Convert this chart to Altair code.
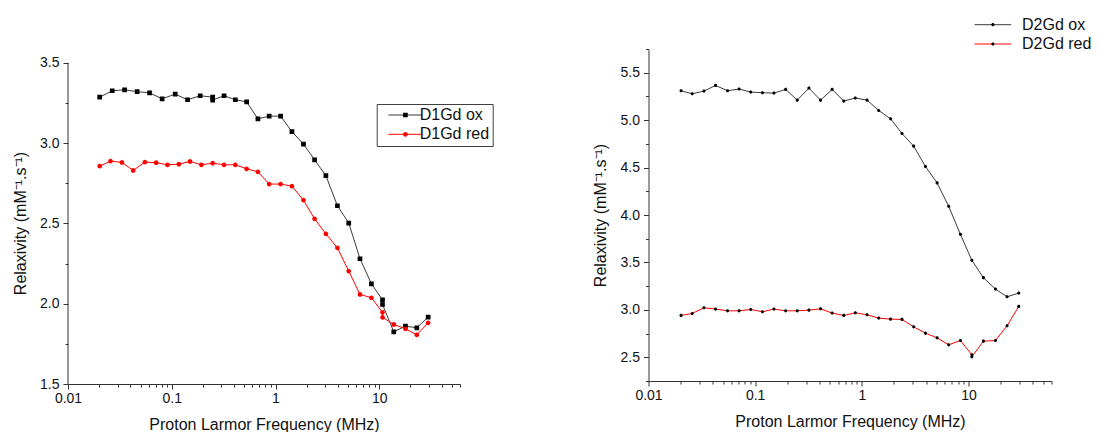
import altair as alt
import pandas as pd

FONT = "Liberation Sans"
AXIS_COLOR = "#333333"
TEXT_COLOR = "#111111"

# ---------------- Left panel: D1Gd ----------------
d1_series = ["D1Gd ox", "D1Gd red"]
d1_marker_keys = ["D1Gd ox marker", "D1Gd red marker"]
d1_ox_freq = [0.0202, 0.0267, 0.0351, 0.0464, 0.0611, 0.0808, 0.108, 0.142, 0.188, 0.248, 0.248,
              0.319, 0.41, 0.527, 0.677, 0.869, 1.12, 1.44, 1.86, 2.38, 3.06, 3.95, 5.08, 6.52, 8.4,
              10.75, 10.75, 13.8, 17.9, 23.0, 29.6]
d1_ox_val = [3.286, 3.326, 3.332, 3.320, 3.313, 3.276, 3.305, 3.270, 3.295, 3.286, 3.268,
             3.295, 3.270, 3.257, 3.151, 3.168, 3.168, 3.071, 2.994, 2.896, 2.797, 2.610, 2.502,
             2.280, 2.124, 2.024, 1.995, 1.825, 1.860, 1.850, 1.917]
d1_red_freq = [0.0202, 0.0257, 0.0331, 0.0425, 0.0551, 0.0707, 0.0909, 0.117, 0.150, 0.193, 0.248,
               0.319, 0.41, 0.527, 0.677, 0.869, 1.12, 1.44, 1.86, 2.38, 3.06, 3.95, 5.08, 6.52, 8.4,
               10.75, 10.75, 13.8, 17.9, 23.0, 29.6]
d1_red_val = [2.857, 2.888, 2.880, 2.830, 2.882, 2.878, 2.865, 2.869, 2.886, 2.865, 2.875,
              2.865, 2.865, 2.840, 2.821, 2.745, 2.745, 2.732, 2.645, 2.529, 2.435, 2.348, 2.203,
              2.058, 2.037, 1.946, 1.915, 1.871, 1.844, 1.806, 1.881]

# ---------------- Right panel: D2Gd ----------------
d2_series = ["D2Gd ox", "D2Gd red"]
d2_marker_keys = ["D2Gd ox marker", "D2Gd red marker"]
d2_ox_freq = [0.0202, 0.0257, 0.0331, 0.0425, 0.0551, 0.0707, 0.0909, 0.117, 0.150, 0.193, 0.248,
              0.319, 0.41, 0.527, 0.677, 0.869, 1.12, 1.44, 1.86, 2.38, 3.06, 3.95, 5.08, 6.52, 8.4,
              10.75, 13.8, 17.9, 23.0, 29.6]
d2_ox_val = [5.310, 5.278, 5.306, 5.366, 5.310, 5.328, 5.296, 5.289, 5.285, 5.324,
             5.211, 5.338, 5.211, 5.324, 5.201, 5.233, 5.211, 5.102, 5.014, 4.859,
             4.726, 4.511, 4.338, 4.092, 3.796, 3.522, 3.339, 3.219, 3.138, 3.177]
d2_red_freq = [0.0202, 0.0257, 0.0331, 0.0425, 0.0551, 0.0707, 0.0909, 0.117, 0.150, 0.193, 0.248,
               0.319, 0.41, 0.527, 0.677, 0.869, 1.12, 1.44, 1.86, 2.38, 3.06, 3.95, 5.08, 6.52, 8.4,
               10.75, 10.75, 13.8, 17.9, 23.0, 29.6]
d2_red_val = [2.941, 2.962, 3.022, 3.008, 2.990, 2.990, 3.004, 2.980, 3.008, 2.990,
              2.990, 2.997, 3.011, 2.966, 2.941, 2.969, 2.948, 2.913, 2.902, 2.899,
              2.821, 2.754, 2.705, 2.631, 2.677, 2.526, 2.505, 2.670, 2.677, 2.832, 3.036]

# ---------------- Axis ticks ----------------
x_ticks = [0.01, 0.02, 0.03, 0.04, 0.05, 0.06, 0.07, 0.08, 0.09,
           0.1, 0.2, 0.3, 0.4, 0.5, 0.6, 0.7, 0.8, 0.9,
           1, 2, 3, 4, 5, 6, 7, 8, 9,
           10, 20, 30, 40, 50, 60]
y1_ticks = [1.5, 1.75, 2.0, 2.25, 2.5, 2.75, 3.0, 3.25, 3.5]
y2_ticks = [2.25, 2.5, 2.75, 3.0, 3.25, 3.5, 3.75, 4.0, 4.25, 4.5, 4.75, 5.0, 5.25, 5.5, 5.75]
y1_axis_span = [1.5, 3.5]

X_DOMAIN = [0.01, 60]
Y1_DOMAIN = [1.5, 3.586]
Y2_DOMAIN = [2.25, 5.75]

X_TITLE = "Proton Larmor Frequency (MHz)"
Y_TITLE = "Relaxivity (mM⁻¹.s⁻¹)"

MAJ_X = "abs(log(datum.value) / LN10 - round(log(datum.value) / LN10)) < 0.01"
MAJ_Y = "abs(datum.value * 2 - round(datum.value * 2)) < 0.01"

# Symbol paths. Every symbol carries the same horizontal segment so legend columns
# of the line legend and of the marker legend have identical widths; point marks are
# fill-only, so the open segment is never drawn on them.
LEFT_SEG = "M-7.25,0H7.25"
RIGHT_SEG = "M-11.6,0H11.6"
SQUARE = "M-1,-1H1V1H-1Z"
CIRCLE = "M1,0A1,1 0 1,1 -1,0A1,1 0 1,1 1,0Z"


def tick_size(test):
    return {"condition": {"test": test, "value": 5}, "value": 3}


def make_df(freqs, vals, name, mk):
    return pd.DataFrame({"freq": freqs, "value": vals, "series": name, "mk": mk,
                         "ord": list(range(len(freqs)))})


def x_enc():
    return alt.X("freq:Q", scale=alt.Scale(type="log", domain=X_DOMAIN, nice=False),
                 axis=alt.Axis(values=x_ticks, format="~g",
                               labelExpr=f"({MAJ_X}) ? datum.label : ''",
                               tickSize=tick_size(MAJ_X), labelFlush=False, labelOverlap=False,
                               labelPadding=2, title=X_TITLE, titlePadding=11))


# ---------------- Left chart ----------------
df1 = pd.concat([make_df(d1_ox_freq, d1_ox_val, d1_series[0], d1_marker_keys[0]),
                 make_df(d1_red_freq, d1_red_val, d1_series[1], d1_marker_keys[1])],
                ignore_index=True)

y1_scale = alt.Scale(domain=Y1_DOMAIN, nice=False, zero=False)
y1_axis = alt.Axis(values=y1_ticks, format=".1f", labelExpr=f"({MAJ_Y}) ? datum.label : ''",
                   tickSize=tick_size(MAJ_Y), domain=False, labelPadding=4,
                   title=Y_TITLE, titleX=-40, titleY=174)

base1 = alt.Chart(df1).encode(x=x_enc(), y=alt.Y("value:Q", scale=y1_scale, axis=y1_axis))

LEG1 = dict(orient="none", legendX=308.7, legendY=55, title=None, symbolSize=22,
            symbolOffset=17.7, labelOffset=6.3, labelFontSize=16, labelFont=FONT,
            padding=3, rowPadding=3.3)

lines1 = base1.mark_line(strokeWidth=1).encode(
    color=alt.Color("series:N", scale=alt.Scale(domain=d1_series, range=["#3a3a3a", "#ff0000"]),
                    legend=alt.Legend(symbolType=LEFT_SEG, symbolStrokeWidth=1,
                                      labelColor=TEXT_COLOR, strokeColor="#404040", **LEG1)),
    order="ord:Q")

leg_pts1 = alt.Legend(labelOpacity=0, labelLimit=20, symbolStrokeWidth=0,
                      symbolStrokeColor="transparent", **LEG1)
pts1 = base1.mark_point(filled=True, opacity=1, size=22).encode(
    shape=alt.Shape("mk:N", scale=alt.Scale(domain=d1_marker_keys,
                                            range=[LEFT_SEG + SQUARE, LEFT_SEG + CIRCLE]),
                    legend=leg_pts1),
    fill=alt.Fill("mk:N", scale=alt.Scale(domain=d1_marker_keys, range=["#000000", "#ff0000"]),
                  legend=leg_pts1))

axis_line1 = alt.Chart(pd.DataFrame({"lo": [y1_axis_span[0]], "hi": [y1_axis_span[1]]})).mark_rule(
    color=AXIS_COLOR, strokeWidth=1).encode(
    x=alt.value(0),
    y=alt.Y("lo:Q", scale=y1_scale, axis=y1_axis),
    y2="hi:Q")

left = alt.layer(lines1, pts1, axis_line1).properties(width=392, height=335)

# ---------------- Right chart ----------------
df2 = pd.concat([make_df(d2_ox_freq, d2_ox_val, d2_series[0], d2_marker_keys[0]),
                 make_df(d2_red_freq, d2_red_val, d2_series[1], d2_marker_keys[1])],
                ignore_index=True)

y2 = alt.Y("value:Q", scale=alt.Scale(domain=Y2_DOMAIN, nice=False, zero=False),
           axis=alt.Axis(values=y2_ticks, format=".1f", labelExpr=f"({MAJ_Y}) ? datum.label : ''",
                         tickSize=tick_size(MAJ_Y), labelPadding=4,
                         title=Y_TITLE, titlePadding=12))

base2 = alt.Chart(df2).encode(x=x_enc(), y=y2)

LEG2 = dict(orient="none", legendX=334.2, legendY=-32.3, title=None, symbolSize=10,
            symbolOffset=2.2, labelOffset=21.1, labelFontSize=16, labelFont=FONT,
            padding=0, rowPadding=3.3)

lines2 = base2.mark_line(strokeWidth=1).encode(
    color=alt.Color("series:N", scale=alt.Scale(domain=d2_series, range=["#3a3a3a", "#ff0000"]),
                    legend=alt.Legend(symbolType=RIGHT_SEG, symbolStrokeWidth=1,
                                      labelColor=TEXT_COLOR, **LEG2)),
    order="ord:Q")

leg_pts2 = alt.Legend(labelOpacity=0, labelLimit=20, symbolStrokeWidth=0,
                      symbolStrokeColor="transparent", symbolFillColor="#000000", **LEG2)
pts2 = base2.mark_point(filled=True, opacity=1, size=10, color="#000000").encode(
    shape=alt.Shape("mk:N", scale=alt.Scale(domain=d2_marker_keys,
                                            range=[RIGHT_SEG + CIRCLE, RIGHT_SEG + CIRCLE]),
                    legend=leg_pts2))

right = alt.layer(lines2, pts2).properties(width=403, height=332)

chart = alt.hconcat(left, right, spacing=97.5).resolve_scale(
    color="independent", shape="independent", fill="independent"
).resolve_legend(
    color="independent", shape="independent", fill="independent"
).properties(
    padding={"left": 4, "top": 8, "right": 0, "bottom": 0}
).configure(font=FONT).configure_view(stroke=None).configure_axis(
    domainColor=AXIS_COLOR, tickColor=AXIS_COLOR, labelColor=TEXT_COLOR, titleColor=TEXT_COLOR,
    labelFont=FONT, titleFont=FONT, labelFontSize=14, titleFontSize=16, titleFontWeight="normal",
    grid=False, domainWidth=1, tickWidth=1
).configure_legend(labelFont=FONT, labelFontSize=16, labelColor=TEXT_COLOR)

chart.save("out.html", embed_options={"renderer": "svg", "actions": False})
